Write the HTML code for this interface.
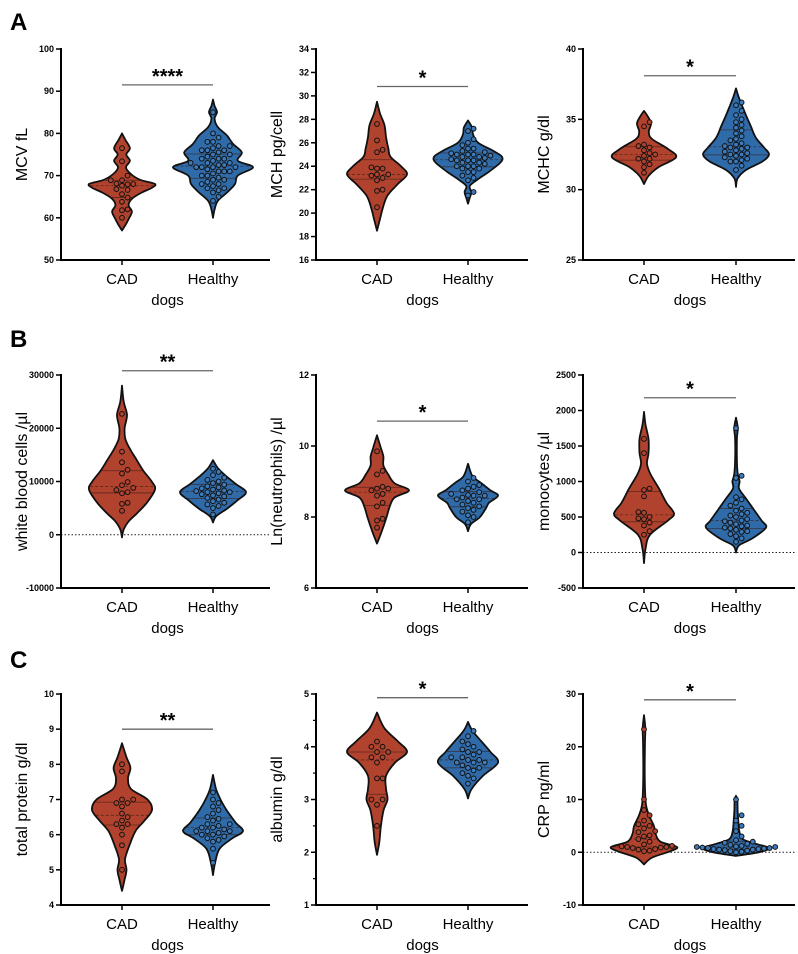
<!DOCTYPE html>
<html><head><meta charset="utf-8">
<style>
body{margin:0;background:#fff;}
svg{display:block;font-family:"Liberation Sans",Arial,sans-serif;}
</style></head><body>
<svg id="fig" width="798" height="954" viewBox="0 0 798 954">
<text x="10" y="30" font-size="24" font-weight="bold">A</text>
<text x="10" y="347" font-size="24" font-weight="bold">B</text>
<text x="10" y="668" font-size="24" font-weight="bold">C</text>
</svg>
<script>
const groups = ["CAD", "Healthy"];
// Panel titles, domains, ticks
const titles = ["MCV fL","MCH pg/cell","MCHC g/dl","white blood cells /\u00b5l","Ln(neutrophils) /\u00b5l","monocytes /\u00b5l","total protein g/dl","albumin g/dl","CRP ng/ml"];
const domains = [[50,100],[16,34],[25,40],[-10000,30000],[6,12],[-500,2500],[4,10],[1,5],[-10,30]];
const ticks = [[50,60,70,80,90,100],[16,18,20,22,24,26,28,30,32,34],[25,30,35,40],[-10000,0,10000,20000,30000],[6,8,10,12],[-500,0,500,1000,1500,2000,2500],[4,5,6,7,8,9,10],[1,2,3,4,5],[-10,0,10,20,30]];
const minorTicks = [[],[],[],[],[],[],[],[1.5,2.5,3.5,4.5],[]];
const sigValues = [91.5,30.8,38.1,30800,10.7,2180,9.0,4.93,28.9];
const sigStars = ["****","*","*","**","*","*","**","*","*"];
const zeroLine = [false,false,false,true,false,true,false,false,true];
// Violin density profiles [value, relative width]
const cadProfiles = [
 [[57,0],[58.5,.12],[60,.22],[61.5,.3],[63,.2],[64.5,.3],[66,.6],[67,.88],[68,1],[69,.55],[70.5,.25],[72,.12],[73.5,.24],[75,.13],[76.5,.24],[78.5,.1],[80,0]],
 [[18.5,0],[19.5,.1],[20.5,.2],[21.5,.35],[22.5,.7],[23.3,1],[24,.8],[24.8,.45],[25.5,.38],[26.5,.3],[27.5,.25],[28.5,.1],[29.5,0]],
 [[30.4,0],[31,.15],[31.6,.45],[32.3,1],[32.9,.75],[33.6,.25],[34.1,.15],[34.7,.22],[35.2,.12],[35.6,0]],
 [[-500,0],[1000,.05],[2500,.2],[4000,.45],[6000,.75],[8500,1],[10000,.9],[12000,.65],[14000,.45],[16000,.25],[18000,.1],[20000,.08],[22500,.15],[25000,.05],[28000,0]],
 [[7.25,0],[7.6,.15],[8.0,.3],[8.3,.4],[8.55,.55],[8.75,1],[8.95,.55],[9.2,.35],[9.45,.2],[9.7,.2],[9.95,.12],[10.3,0]],
 [[-150,0],[50,.05],[250,.2],[450,.8],[550,1],[700,.75],[900,.5],[1100,.22],[1250,.1],[1400,.15],[1600,.15],[1800,.05],[1980,0]],
 [[4.4,0],[4.7,.08],[5.0,.15],[5.3,.1],[5.7,.25],[6.1,.45],[6.4,.75],[6.7,1],[7.0,.85],[7.3,.3],[7.6,.2],[7.9,.28],[8.2,.15],[8.6,0]],
 [[1.95,0],[2.2,.08],[2.5,.13],[2.8,.22],[3.0,.35],[3.2,.3],[3.45,.3],[3.7,.6],[3.9,1],[4.1,.7],[4.35,.25],[4.65,0]],
 [[-2.3,0],[-1,.25],[0.2,.8],[1,1],[2,.5],[3.5,.35],[5,.3],[7,.15],[9,.06],[12,.03],[16,.02],[21,.03],[23.5,.04],[26,0]]
];
const healthyProfiles = [
 [[60,0],[62,.04],[64,.12],[66,.35],[68,.55],[70,.62],[72,1],[73.5,.62],[75.5,.72],[77.5,.5],[79.5,.35],[81.5,.12],[83.5,.04],[85,.1],[86.5,.04],[88,0]],
 [[20.8,0],[21.3,.05],[21.8,.1],[22.3,.05],[22.8,.25],[23.5,.6],[24.3,.95],[24.8,1],[25.3,.75],[26,.3],[26.7,.15],[27.3,.12],[27.9,0]],
 [[30.2,0],[30.8,.05],[31.4,.3],[32,.8],[32.5,1],[33,.85],[33.7,.6],[34.5,.45],[35.3,.3],[36,.18],[36.6,.08],[37.2,0]],
 [[2300,0],[3500,.1],[5000,.45],[6500,.75],[8000,1],[9500,.7],[11000,.4],[12500,.15],[14000,0]],
 [[7.6,0],[7.8,.1],[8.0,.4],[8.25,.6],[8.4,.7],[8.6,1],[8.75,.75],[8.95,.45],[9.15,.15],[9.5,0]],
 [[0,0],[100,.1],[200,.55],[350,1],[450,.85],[600,.6],[750,.35],[900,.1],[1000,.12],[1100,.06],[1300,.03],[1600,.03],[1750,.06],[1900,0]],
 [[4.85,0],[5.2,.07],[5.6,.22],[5.9,.65],[6.1,1],[6.35,.75],[6.7,.45],[7.0,.25],[7.3,.1],[7.7,0]],
 [[3.02,0],[3.2,.12],[3.45,.5],[3.7,1],[3.9,.75],[4.1,.45],[4.3,.15],[4.47,0]],
 [[-0.7,0],[0,.7],[0.8,1],[1.6,.6],[2.5,.2],[4,.1],[6,.07],[8,.05],[10,.04],[10.7,0]]
];
// Individual observations
const cadValues = [
 [60,62,61.8,63.8,64.8,65.6,66.6,66.8,67.6,68,67.9,68.1,68.9,68.9,70,73.4,76.5],
 [20.5,21.9,22,22.8,23,23.2,23.3,23.3,23.8,23.9,23.8,25.2,25.4,26.2,27.6],
 [31.2,31.6,31.8,32,32.2,32.2,32.4,32.5,32.6,32.8,33,33.1,33.2,34.5,34.8],
 [4500,5800,6000,7800,8000,8400,8800,9300,9900,11500,12200,13600,15600,22700],
 [7.7,7.9,7.95,8.3,8.4,8.6,8.65,8.75,8.8,8.8,8.85,9.2,9.3,9.85],
 [250,300,380,420,470,480,500,560,570,790,880,900,1400,1600],
 [5.0,5.7,6.0,6.2,6.3,6.3,6.4,6.5,6.6,6.8,6.9,6.9,7.0,7.0,7.8,8.0],
 [2.5,2.9,3.0,3.0,3.4,3.4,3.7,3.8,3.8,3.9,3.9,4.0,4.0,4.1],
 [0.2,0.3,0.5,0.6,0.8,0.9,1,1,1.1,1.2,1.5,2,2.5,3,3.2,3.8,4,4.5,5,5.3,6,7,8,10,23.3]
];
const healthyValues = [
 [64,65,66,66.5,67,67,67.5,68,68,68.5,69,69,69.5,70,70,70.5,71,71,71,71.5,72,72,72,72,72.5,72.5,73,73,73,73.5,74,74,74,74.5,75,75,75.5,76,76,76,76.5,77,77,78,78,79,80,85],
 [21.5,21.8,22.8,23,23.2,23.5,23.5,23.8,23.8,24,24,24,24.2,24.3,24.3,24.5,24.5,24.5,24.6,24.7,24.8,24.8,24.9,25,25,25,25.1,25.2,25.3,25.5,25.5,25.8,26,26.3,27,27.2],
 [31.4,31.7,32,32,32.1,32.2,32.3,32.4,32.5,32.5,32.6,32.7,32.8,32.9,33,33,33.1,33.2,33.3,33.5,33.6,33.8,34,34.2,34.4,34.6,34.8,35,35.3,35.6,36,36.2],
 [3800,5000,5400,5700,6000,6300,6600,6900,7200,7400,7600,7800,8000,8000,8200,8300,8500,8700,8900,9100,9400,9700,10000,10300,10700,11200,11800,12400],
 [7.85,8.0,8.05,8.15,8.2,8.25,8.3,8.35,8.4,8.45,8.5,8.5,8.55,8.6,8.6,8.62,8.65,8.7,8.75,8.8,8.85,8.9,9.0,9.1],
 [150,200,230,260,290,300,320,340,350,370,380,400,420,440,450,470,500,520,540,560,590,620,660,700,750,780,1050,1080,1750],
 [5.2,5.6,5.8,5.85,5.9,5.95,6.0,6.0,6.05,6.1,6.1,6.1,6.15,6.2,6.2,6.25,6.3,6.3,6.4,6.45,6.5,6.6,6.7,6.8,6.9,7.0,7.2],
 [3.3,3.4,3.45,3.5,3.55,3.6,3.6,3.65,3.7,3.7,3.7,3.75,3.75,3.8,3.8,3.85,3.9,3.9,3.95,4.0,4.05,4.1,4.2,4.3],
 [0,0.1,0.2,0.3,0.4,0.5,0.5,0.6,0.6,0.7,0.8,0.8,0.9,1,1,1.1,1.2,1.4,1.6,1.8,2,2.3,3,4,5,6,7,10]
];
</script>
<script>
const svg = document.getElementById('fig');
const NS = 'http://www.w3.org/2000/svg';
const COLX = [[61,122,213,270],[316,377,468,528],[583,644,736,795]];
const ROWY = [[49,260],[375,588],[694,905]];
const MAXW = [[33,40],[30,34],[32,33],[33,33],[32,30],[30,30],[30,30],[30,30],[33,33]];
const FILL = ['#b1432e','#2f6ba9'];
function mk(tag, attrs, parent){const e=document.createElementNS(NS,tag);for(const k in attrs)e.setAttribute(k,attrs[k]);(parent||svg).appendChild(e);return e;}
function widthAt(prof,v){if(v<=prof[0][0]||v>=prof[prof.length-1][0])return 0;for(let i=0;i<prof.length-1;i++){const a=prof[i],b=prof[i+1];if(v>=a[0]&&v<=b[0])return a[1]+(b[1]-a[1])*(v-a[0])/(b[0]-a[0]);}return 0;}
function smoothPath(pts){let d='M'+pts[0][0]+','+pts[0][1];for(let i=0;i<pts.length-1;i++){const p0=pts[Math.max(0,i-1)],p1=pts[i],p2=pts[i+1],p3=pts[Math.min(pts.length-1,i+2)];const c1=[p1[0]+(p2[0]-p0[0])/6,p1[1]+(p2[1]-p0[1])/6],c2=[p2[0]-(p3[0]-p1[0])/6,p2[1]-(p3[1]-p1[1])/6];d+=' C'+c1[0].toFixed(1)+','+c1[1].toFixed(1)+' '+c2[0].toFixed(1)+','+c2[1].toFixed(1)+' '+p2[0].toFixed(1)+','+p2[1].toFixed(1);}return d;}
function quantile(arr,q){const s=[...arr].sort((a,b)=>a-b);const p=(s.length-1)*q,l=Math.floor(p);return s[l]+(s[Math.min(l+1,s.length-1)]-s[l])*(p-l);}

for(let p=0;p<9;p++){
  const col=COLX[p%3], row=ROWY[Math.floor(p/3)];
  const [ax,cx0,cx1,xr]=col,[top,bot]=row,[d0,d1]=domains[p];
  const y=v=>bot-(v-d0)/(d1-d0)*(bot-top);
  const g=mk('g',{});
  
  
  if(zeroLine[p]){const zl=mk('line',{x1:ax,x2:xr,y1:y(0),y2:y(0),stroke:'#222','stroke-width':1,'stroke-dasharray':'1.5,2'},g);
    
    }
  const cxs=[cx0,cx1];
  [cadProfiles[p],healthyProfiles[p]].forEach((prof,gi)=>{
    const cx=cxs[gi],mw=MAXW[p][gi];
    const right=prof.map(a=>[cx+a[1]*mw,y(a[0])]).reverse();
    const left=prof.map(a=>[cx-a[1]*mw,y(a[0])]);
    const d=smoothPath(right)+' '+smoothPath(left).replace('M','L')+' Z';
    const v=mk('path',{d:d,fill:FILL[gi],stroke:'#111','stroke-width':1.8,'stroke-linejoin':'round'},g);
    
    
    const vals=gi===0?cadValues[p]:healthyValues[p];
    [0.25,0.5,0.75].forEach(q=>{const qv=quantile(vals,q),w=widthAt(prof,qv)*mw;
      const l=mk('line',{x1:cx-w,x2:cx+w,y1:y(qv),y2:y(qv),stroke:'#3a1a12','stroke-width':0.8,'stroke-dasharray':q===0.5?'3,2':'none',opacity:0.7},g);
      
      });
    // beeswarm
    const placed=[];
    [...vals].sort((a,b)=>a-b).forEach(val=>{
      const py=y(val);let off=0;
      for(let k=0;k<60;k++){off=(k%2?1:-1)*Math.ceil(k/2)*5.6;const ok=placed.every(pt=>Math.hypot(pt[0]-(cx+off),pt[1]-py)>=5.4);if(ok)break;}
      placed.push([cx+off,py]);
      const c=mk('circle',{cx:cx+off,cy:py,r:2.4,fill:gi===0?'#b1432e':'#3d7bbb',stroke:'#111','stroke-width':1},g);
      
      
    });
  });
  // axes
  const ya=mk('line',{x1:ax,x2:ax,y1:top-1,y2:bot+1,stroke:'#000','stroke-width':2},g);
  
  
  const xa=mk('line',{x1:ax-1,x2:xr,y1:bot,y2:bot,stroke:'#000','stroke-width':2},g);
  
  
  ticks[p].forEach(t=>{
    mk('line',{x1:ax-5,x2:ax,y1:y(t),y2:y(t),stroke:'#000','stroke-width':1.5},g);
    const tl=mk('text',{x:ax-7,y:y(t)+3,'font-size':9,'font-weight':'bold','text-anchor':'end'},g);
    tl.textContent=t;
    
    
  });
  minorTicks[p].forEach(t=>{mk('line',{x1:ax-3,x2:ax,y1:y(t),y2:y(t),stroke:'#000','stroke-width':1.2},g);});
  const yt=mk('text',{x:0,y:0,'font-size':16,'text-anchor':'middle',transform:'translate('+(ax-34)+','+((top+bot)/2)+') rotate(-90)'},g);
  yt.textContent=titles[p];
  
  
  groups.forEach((gn,gi)=>{
    mk('line',{x1:cxs[gi],x2:cxs[gi],y1:bot,y2:bot+5,stroke:'#000','stroke-width':1.5},g);
    const xl=mk('text',{x:cxs[gi],y:bot+24,'font-size':15,'text-anchor':'middle'},g);
    xl.textContent=gn;
    
    
  });
  const xt=mk('text',{x:(cx0+cx1)/2,y:bot+45,'font-size':15,'text-anchor':'middle'},g);
  xt.textContent='dogs';
  
  
  const sy=y(sigValues[p]);
  const sl=mk('line',{x1:cx0,x2:cx1,y1:sy,y2:sy,stroke:'#666','stroke-width':1.3},g);
  
  
  const st=mk('text',{x:(cx0+cx1)/2,y:sy-2,'font-size':20,'font-weight':'bold','text-anchor':'middle'},g);
  st.textContent=sigStars[p];
  
  
}
</script>
</body></html>
